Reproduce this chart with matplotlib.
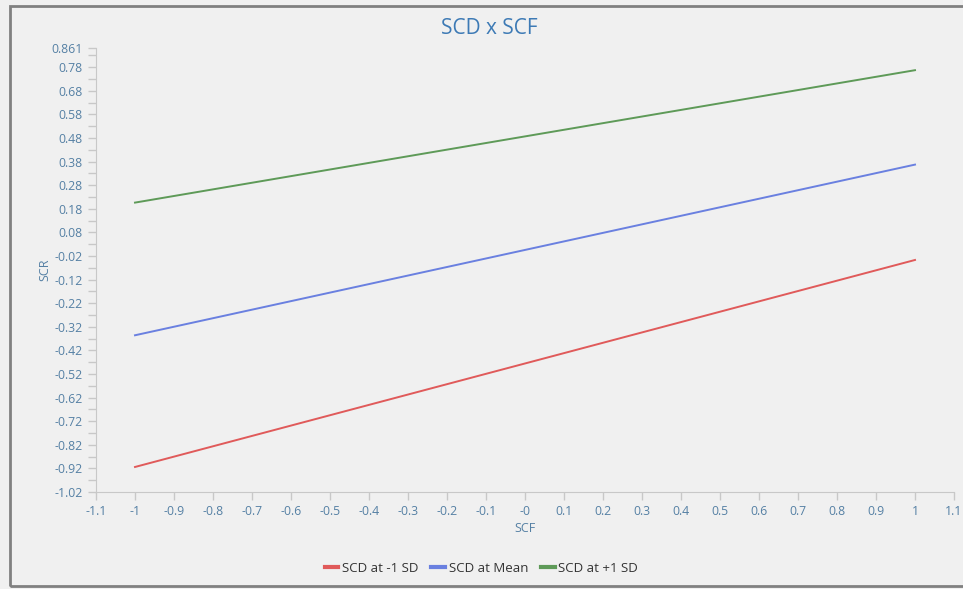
import numpy as np
import matplotlib
matplotlib.use('Agg')
import matplotlib.pyplot as plt
from matplotlib.patches import Rectangle

plt.rcParams['font.family'] = ['Open Sans', 'DejaVu Sans']

# data
x_vals = [-1, 1]
low_sd = [-0.914, -0.037]
mean_sd = [-0.356, 0.367]
high_sd = [0.206, 0.767]
labels = ['SCD at -1 SD', 'SCD at Mean', 'SCD at +1 SD']
colors = ['#e05a5a', '#6a80e0', '#5e9a58']

xticks = np.round(np.arange(-1.1, 1.11, 0.1), 1)
xticklabels = ['-1.1', '-1', '-0.9', '-0.8', '-0.7', '-0.6', '-0.5', '-0.4', '-0.3', '-0.2', '-0.1',
               '-0', '0.1', '0.2', '0.3', '0.4', '0.5', '0.6', '0.7', '0.8', '0.9', '1', '1.1']
yticks = list(np.round(np.arange(-1.02, 0.79, 0.1), 2)) + [0.861]

bg = '#f0f0f0'
tick_col = '#5580a4'
axis_col = '#c8c8c8'

fig = plt.figure(figsize=(9.63, 5.89), dpi=100, facecolor=bg)
fig.patches.append(Rectangle((10/963, 3/589), 960/963, 580/589, transform=fig.transFigure,
                             fill=False, edgecolor='#808080', linewidth=2))
ax = fig.add_axes([96/963, 97/589, 858/963, 444/589], facecolor=bg)

for ys, lab, c in zip([low_sd, mean_sd, high_sd], labels, colors):
    ax.plot(x_vals, ys, color=c, linewidth=1.4, label=lab)

ax.set_xlim(-1.1, 1.1)
ax.set_ylim(-1.02, 0.861)
ax.set_xticks(xticks)
ax.set_xticklabels(xticklabels)
ax.set_yticks(yticks)
ax.set_yticklabels(['%g' % v for v in yticks])
ax.set_yticks(list(np.round(np.arange(-0.97, 0.84, 0.1), 2)), minor=True)

for s in ['top', 'right']:
    ax.spines[s].set_visible(False)
for s in ['left', 'bottom']:
    ax.spines[s].set_color(axis_col)
ax.tick_params(axis='both', colors=axis_col, labelcolor=tick_col, labelsize=8.8, length=6, width=1)
ax.tick_params(axis='y', which='minor', colors=axis_col, length=6, width=1)

ax.set_xlabel('SCF', color=tick_col, fontsize=9, labelpad=3)
ax.set_ylabel('SCR', color=tick_col, fontsize=9, labelpad=0)
fig.text(0.508, 0.952, 'SCD x SCF', ha='center', va='center', color='#3d7ab5', fontsize=15)

leg = fig.legend(loc='center', bbox_to_anchor=(0.5, 0.035), ncol=3, frameon=False,
                 fontsize=9.5, handlelength=1.0, handletextpad=0.3, columnspacing=1.0)
for h in leg.legend_handles:
    h.set_linewidth(3)
for t in leg.get_texts():
    t.set_color('#333333')

fig.savefig('out.png', dpi=100, facecolor=bg)
